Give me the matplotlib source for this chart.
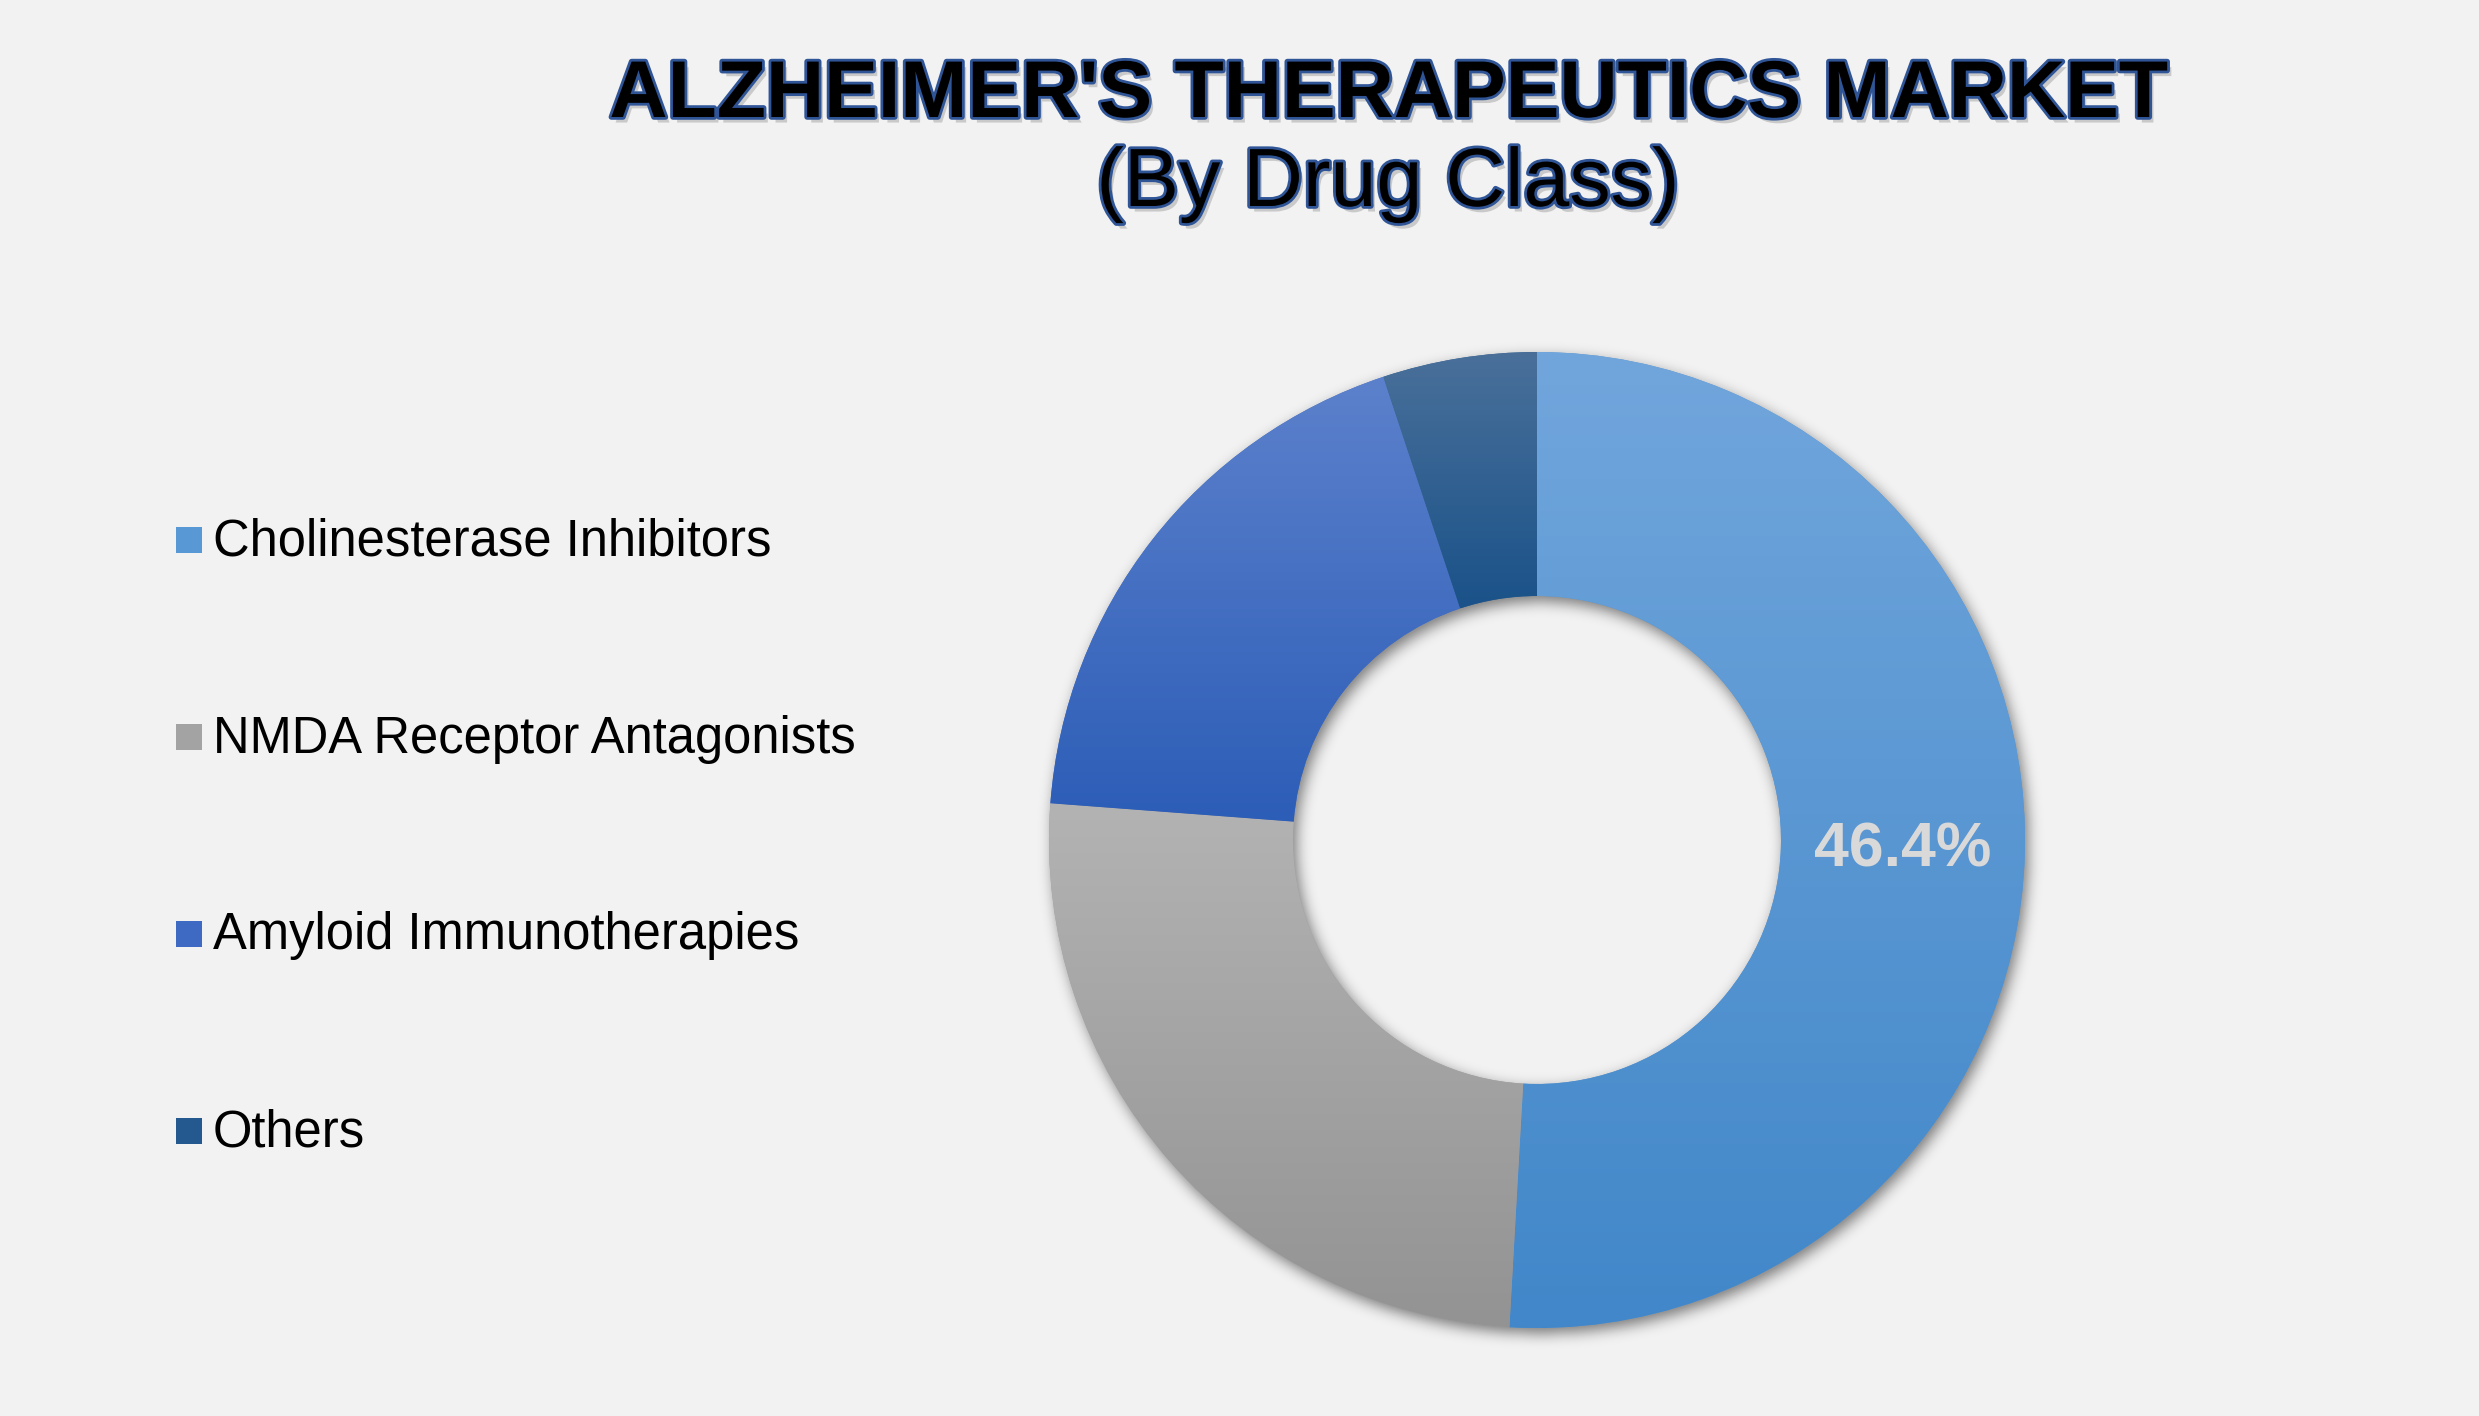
import numpy as np
import matplotlib
matplotlib.use("Agg")
import matplotlib.pyplot as plt
from matplotlib import patheffects as pe
from matplotlib.colors import to_rgb
from matplotlib.patches import Rectangle

plt.rcParams['font.family'] = ['Liberation Sans', 'DejaVu Sans']

# ---- data ----
categories = ['Cholinesterase Inhibitors', 'NMDA Receptor Antagonists',
              'Amyloid Immunotherapies', 'Others']
shares = [50.9, 25.3, 18.7, 5.1]
label_texts = ['46.4%', '', '', '']
top_colors = ['#71A6DC', '#B3B3B3', '#5C81CC', '#4A709A']
bottom_colors = ['#4187C9', '#939393', '#2C5DB7', '#1A5289']
legend_colors = ['#5898D4', '#A3A3A3', '#3F6AC3', '#23598F']
title_line1 = "ALZHEIMER'S THERAPEUTICS MARKET"
title_line2 = "(By Drug Class)"

W, H, DPI = 2479, 1416, 100
BG = '#F2F2F2'
fig = plt.figure(figsize=(W / DPI, H / DPI), dpi=DPI, facecolor=BG)

# donut axes: centre (1537, 840) px, outer radius 488 px
R_PX = 488.0
CX, CY = 1537.0, 840.0
LIM = 1.15
side = 2 * LIM * R_PX
ax = fig.add_axes([(CX - side / 2) / W, (H - CY - side / 2) / H, side / W, side / H])
ax.set_facecolor('none')
ax.axis('off')

mid_colors = [tuple((np.array(to_rgb(a)) + np.array(to_rgb(b))) / 2)
              for a, b in zip(top_colors, bottom_colors)]
wedges, _ = ax.pie(shares, startangle=90, counterclock=False, radius=1.0,
                   colors=mid_colors,
                   wedgeprops=dict(width=0.5, linewidth=0, zorder=2))

# soft drop shadow of the ring
N = 900
xs = np.linspace(-LIM, LIM, N)
X, Y = np.meshgrid(xs, xs)
offx, offy = 3 / R_PX, -6 / R_PX
Rr = np.hypot(X - offx, Y - offy)
mask = ((Rr <= 1.0) & (Rr >= 0.5)).astype(float)
sig = 7.0 * N / side
k = np.arange(-int(3 * sig) - 1, int(3 * sig) + 2)
kern = np.exp(-0.5 * (k / sig) ** 2)
kern /= kern.sum()
bl = np.apply_along_axis(lambda r: np.convolve(r, kern, mode='same'), 1, mask)
bl = np.apply_along_axis(lambda c: np.convolve(c, kern, mode='same'), 0, bl)
shadow = np.zeros((N, N, 4))
shadow[..., 3] = bl * 0.5
ax.imshow(shadow, extent=[-LIM, LIM, -LIM, LIM], origin='lower',
          interpolation='bilinear', zorder=1)

# vertical gradient fill per wedge
t = np.linspace(0, 1, 256)[:, None, None]
for w, tc, bc in zip(wedges, top_colors, bottom_colors):
    ext = w.get_path().get_extents()
    img = (1 - t) * np.array(to_rgb(tc)) + t * np.array(to_rgb(bc))
    im = ax.imshow(img, extent=[ext.x0, ext.x1, ext.y0, ext.y1], origin='upper',
                   aspect='auto', interpolation='bilinear', zorder=3)
    im.set_clip_path(w)

# data label
for w, txt in zip(wedges, label_texts):
    if not txt:
        continue
    ang = np.deg2rad((w.theta1 + w.theta2) / 2)
    ax.text(0.75 * np.cos(ang), 0.75 * np.sin(ang), txt, ha='center', va='center',
            fontsize=45, fontweight='bold', color='#D9D9D9', zorder=5)

ax.set_xlim(-LIM, LIM)
ax.set_ylim(-LIM, LIM)
ax.set_aspect('equal')

# title
title_fx = [pe.withSimplePatchShadow(offset=(3, -4), shadow_rgbFace='#7F7F7F', alpha=0.35),
            pe.Stroke(linewidth=4, foreground='#2F5597'), pe.Normal()]
fig.text(1388 / W, 1 - 117 / H, title_line1, ha='center', va='baseline',
         fontsize=58, fontweight='bold', color='black', path_effects=title_fx)
fig.text(1388 / W, 1 - 206 / H, title_line2, ha='center', va='baseline',
         fontsize=59.5, color='black', path_effects=title_fx)

# legend
for i, (cat, col) in enumerate(zip(categories, legend_colors)):
    yc = 540 + i * 197
    fig.add_artist(Rectangle((176 / W, 1 - (yc + 13) / H), 26 / W, 26 / H,
                             transform=fig.transFigure, facecolor=col, edgecolor='none'))
    fig.text(213 / W, 1 - (yc + 15.5) / H, cat, ha='left', va='baseline',
             fontsize=36.5, color='black')

fig.savefig('out.png', dpi=DPI, facecolor=BG)
